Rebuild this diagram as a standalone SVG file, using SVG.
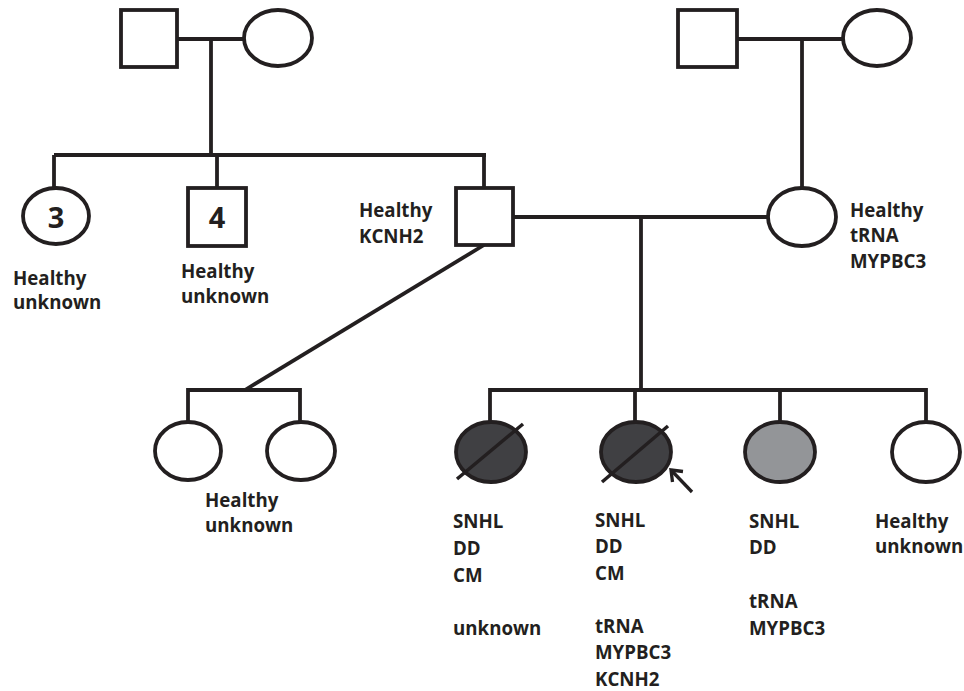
<svg xmlns="http://www.w3.org/2000/svg" width="964" height="691" viewBox="0 0 964 691">
<defs>
<style>
.ln{stroke:#231f20;stroke-width:3.8;fill:none;stroke-linecap:butt}
.sym{stroke:#231f20;stroke-width:3.8;fill:#fff}
.dk{fill:#404043}
.gr{fill:#939598}
.sl{stroke:#231f20;stroke-width:3.5;fill:none}
.ar{stroke:#231f20;stroke-width:3.3;fill:none}
text{font-family:"Open Sans","Liberation Sans",sans-serif;font-weight:bold;font-size:18.7px;fill:#231f20}
.num{font-size:29px;text-anchor:middle}
</style>
</defs>
<g id="connectors">
<path class="ln" d="M177,39 H244"/>
<path class="ln" d="M211,39 V155"/>
<path class="ln" d="M54,155 H486"/>
<path class="ln" d="M54,155 V188"/>
<path class="ln" d="M217,155 V188"/>
<path class="ln" d="M484,155 V188"/>
<path class="ln" d="M737,39 H843"/>
<path class="ln" d="M802,39 V188"/>
<path class="ln" d="M513,217 H768"/>
<path class="ln" d="M641,217 V390"/>
<path class="ln" d="M490,390 H926"/>
<path class="ln" d="M490,388 V423"/>
<path class="ln" d="M635,390 V423"/>
<path class="ln" d="M780,390 V423"/>
<path class="ln" d="M926,388 V423"/>
<path class="ln" d="M484,245 L245,390"/>
<path class="ln" d="M188,390 H300"/>
<path class="ln" d="M188,388 V422"/>
<path class="ln" d="M300,388 V422"/>
<path class="ar" d="M692,492 L671,470"/>
<path class="ar" d="M672.5,482 L671,470 L683,471.5" stroke-linejoin="miter"/>
</g>
<g id="gp1m"><rect class="sym" x="121" y="10" width="56" height="57"/></g>
<g id="gp1f"><ellipse class="sym" cx="278" cy="38" rx="34" ry="28"/></g>
<g id="gp2m"><rect class="sym" x="678" y="10" width="59" height="57"/></g>
<g id="gp2f"><ellipse class="sym" cx="877" cy="38" rx="34" ry="28"/></g>
<g id="aunt3">
<ellipse class="sym" cx="56" cy="216" rx="33" ry="28"/>
<text class="num" x="56" y="228">3</text>
<text x="13" y="285">Healthy</text>
<text x="13" y="309">unknown</text>
</g>
<g id="uncle4">
<rect class="sym" x="188" y="188" width="58" height="58"/>
<text class="num" x="217" y="228">4</text>
<text x="181" y="278">Healthy</text>
<text x="181" y="303">unknown</text>
</g>
<g id="father">
<rect class="sym" x="456" y="188" width="57" height="57"/>
<text x="359" y="217">Healthy</text>
<text x="359" y="243">KCNH2</text>
</g>
<g id="mother">
<ellipse class="sym" cx="802" cy="217" rx="34" ry="29"/>
<text x="850" y="217">Healthy</text>
<text x="850" y="242">tRNA</text>
<text x="850" y="268">MYPBC3</text>
</g>
<g id="halfsib1"><ellipse class="sym" cx="188" cy="451" rx="33" ry="29"/></g>
<g id="halfsib2">
<ellipse class="sym" cx="301" cy="451" rx="34" ry="29"/>
<text x="205" y="507">Healthy</text>
<text x="205" y="532">unknown</text>
</g>
<g id="child1">
<ellipse class="sym dk" cx="491" cy="452" rx="35" ry="30"/>
<path class="sl" d="M457,479 L523,424"/>
<text x="453" y="528">SNHL</text>
<text x="453" y="555">DD</text>
<text x="453" y="582">CM</text>
<text x="453" y="635">unknown</text>
</g>
<g id="child2">
<ellipse class="sym dk" cx="636" cy="452" rx="35" ry="30"/>
<path class="sl" d="M602,482 L668,426"/>
<text x="595" y="527">SNHL</text>
<text x="595" y="553">DD</text>
<text x="595" y="580">CM</text>
<text x="595" y="633">tRNA</text>
<text x="595" y="659">MYPBC3</text>
<text x="595" y="686">KCNH2</text>
</g>
<g id="child3">
<ellipse class="sym gr" cx="780" cy="452" rx="35" ry="30"/>
<text x="749" y="528">SNHL</text>
<text x="749" y="554">DD</text>
<text x="749" y="608">tRNA</text>
<text x="749" y="635">MYPBC3</text>
</g>
<g id="child4">
<ellipse class="sym" cx="926" cy="452" rx="34" ry="30"/>
<text x="875" y="528">Healthy</text>
<text x="875" y="553">unknown</text>
</g>
</svg>
